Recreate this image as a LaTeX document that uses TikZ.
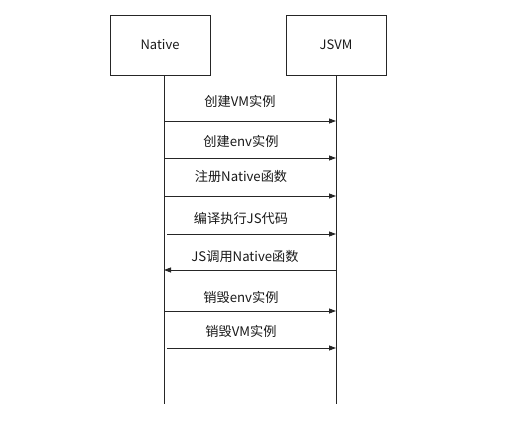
\documentclass[tikz,border=0pt]{standalone}
\usepackage{fontspec}
\setmainfont{Noto Sans CJK SC}
\usetikzlibrary{arrows.meta}
\begin{document}
\begin{tikzpicture}[x=1pt,y=-1pt,
  actor/.style={draw=black!85, line width=0.8pt, minimum width=100pt, minimum height=60pt, inner sep=0pt, font=\fontsize{13}{15}\selectfont, text=black!90},
  life/.style={draw=black!85, line width=0.8pt},
  msg/.style={draw=black!85, line width=0.8pt, -{Triangle[length=7pt,width=5pt]}},
  lbl/.style={font=\fontsize{13.2}{15}\selectfont, text=black!90, inner sep=0pt}]
\useasboundingbox (0,0) rectangle (513,429);
\node[actor] (nat) at (160,45) {Native};
\node[actor] (vm) at (336,45) {JSVM};
\coordinate (natb) at (164,404);
\coordinate (vmb) at (336,404);
\draw[life] (nat.south -| natb) -- (natb);
\draw[life] (vm.south) -- (vmb);
% message endpoints
\coordinate (a1) at (164,121); \coordinate (b1) at (336,121);
\coordinate (a2) at (164,158); \coordinate (b2) at (336,158);
\coordinate (a3) at (164,196); \coordinate (b3) at (336,196);
\coordinate (a4) at (167,234); \coordinate (b4) at (336,234);
\coordinate (a5) at (164,270); \coordinate (b5) at (336,270);
\coordinate (a6) at (164,311); \coordinate (b6) at (336,311);
\coordinate (a7) at (167,348); \coordinate (b7) at (336,348);
\draw[msg] (a1) -- (b1);
\draw[msg] (a2) -- (b2);
\draw[msg] (a3) -- (b3);
\draw[msg] (a4) -- (b4);
\draw[msg] (b5) -- (a5);
\draw[msg] (a6) -- (b6);
\draw[msg] (a7) -- (b7);
\node[lbl] (l1) at (240,101) {创建VM实例};
\node[lbl] (l2) at (241,141) {创建env实例};
\node[lbl] (l3) at (241,176) {注册Native函数};
\node[lbl] (l4) at (241,218) {编译执行JS代码};
\node[lbl] (l5) at (245,257) {JS调用Native函数};
\node[lbl] (l6) at (241,297) {销毁env实例};
\node[lbl] (l7) at (241,331) {销毁VM实例};
\end{tikzpicture}
\end{document}
